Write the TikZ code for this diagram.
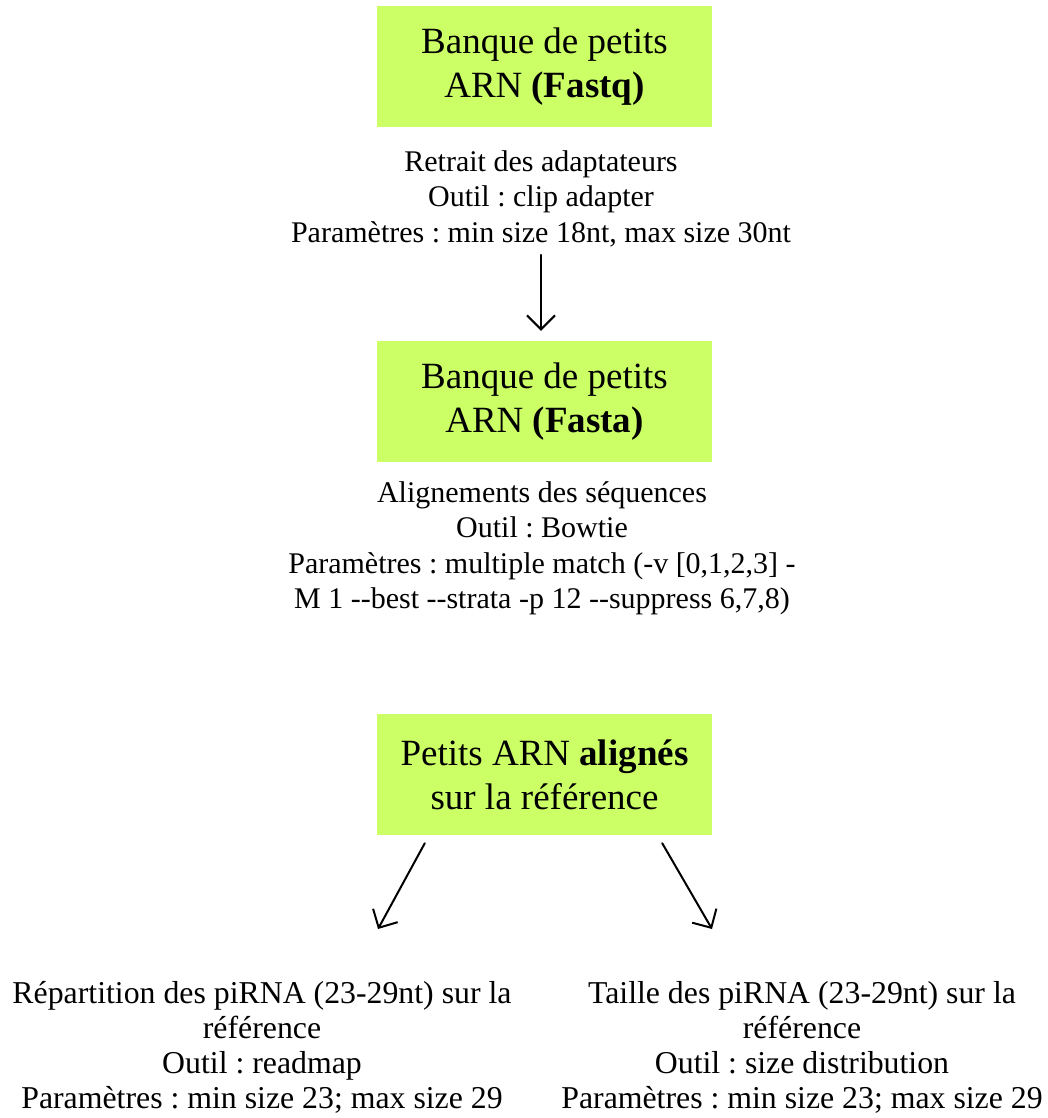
\documentclass[tikz,border=0pt]{standalone}
\usepackage{fontspec}
\setmainfont{Liberation Serif}
\usetikzlibrary{arrows.meta,positioning}
\definecolor{limegreen}{HTML}{CCFF66}
\frenchspacing
\tikzset{
    every picture/.style={line cap=round,line join=round},
    bankbox/.style={fill=limegreen,minimum width=335pt,minimum height=121pt,
      inner sep=0pt,align=center,font=\fontsize{37}{44}\selectfont},
    steptext/.style={align=center,inner sep=0pt,
      font=\fontsize{30}{35.5}\selectfont},
    resulttext/.style={steptext,font=\fontsize{31.8}{35}\selectfont},
    flowarrow/.style={-{Straight Barb[length=14pt,width=28pt]},line width=2pt}
}
\begin{document}
\begin{tikzpicture}[x=1pt,y=-1pt]
  \useasboundingbox (0,0) rectangle (1048,1118);
  \node[bankbox] (fastq) at (544.5,66.5) {Banque de petits\\ARN \textbf{(Fastq)}};
  \node[steptext,anchor=north] (trim) at (541,150) {Retrait des adaptateurs\\
    Outil : clip adapter\\Paramètres : min size 18nt, max size 30nt};
  \node[bankbox] (fasta) at (544.5,401.5) {Banque de petits\\ARN \textbf{(Fasta)}};
  \node[steptext,anchor=north] (bowtie) at (542,481) {Alignements des séquences\\
    Outil : Bowtie\\Paramètres : multiple match (-v [0,1,2,3] -\\
    M 1 -{}-best -{}-strata -p 12 -{}-suppress 6,7,8)};
  \node[bankbox] (aligned) at (544.5,774.5) {Petits ARN \textbf{alignés}\\sur la référence};
  \node[resulttext,anchor=north] (readmap) at (262,981) {Répartition des piRNA (23-29nt) sur la\\
    référence\\Outil : readmap\\Paramètres : min size 23; max size 29};
  \node[resulttext,anchor=north] (sizedist) at (802,981) {Taille des piRNA (23-29nt) sur la\\
    référence\\Outil : size distribution\\Paramètres : min size 23; max size 29};
  \draw[flowarrow,shorten <=8pt,shorten >=10pt] (trim.south) -- (trim.south |- fasta.north);
  \draw[flowarrow] ([xshift=48pt,yshift=-8pt]aligned.south west)
    -- ([xshift=116pt,yshift=52pt]readmap.north);
  \draw[flowarrow] ([xshift=-50pt,yshift=-8pt]aligned.south east)
    -- ([xshift=-90pt,yshift=52pt]sizedist.north);
\end{tikzpicture}
\end{document}
